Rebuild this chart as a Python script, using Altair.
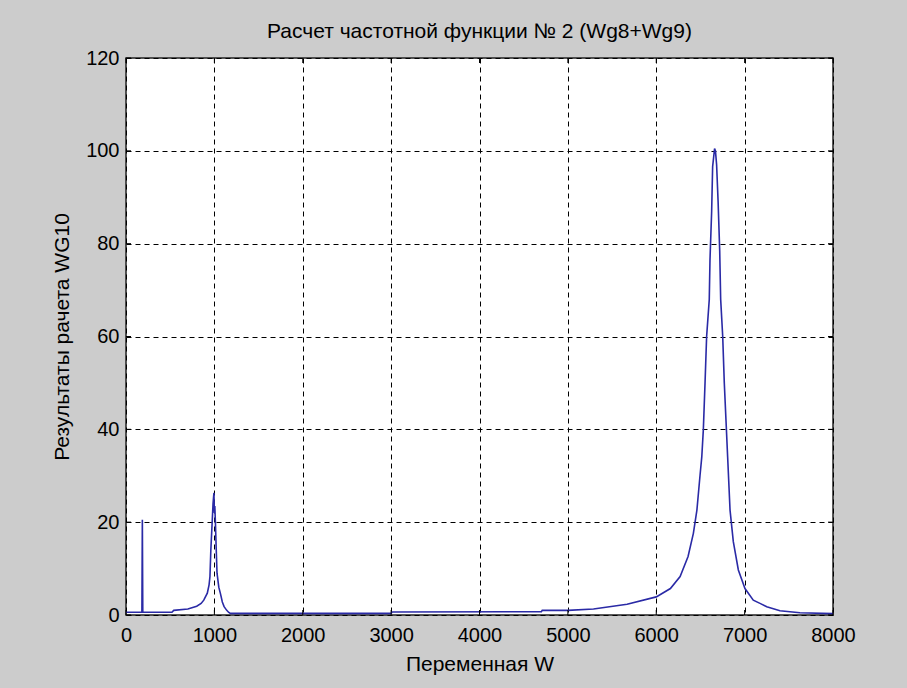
import altair as alt
import pandas as pd

# Frequency response readings (W, WG10)
w_values = [0, 180, 185, 190, 520, 540, 700, 800, 850, 880, 920, 940, 950, 960, 975, 985, 995,
            1000, 1005, 1012, 1020, 1030, 1050, 1070, 1090, 1110, 1140, 1160, 1180,
            3000, 3010, 4700, 4710, 5000, 5290, 5670, 6000, 6160, 6270, 6360, 6420, 6460,
            6495, 6515, 6533, 6552, 6570, 6600, 6608, 6627, 6638, 6660, 6670, 6683, 6700,
            6718, 6729, 6752, 6770, 6789, 6808, 6835, 6872, 6929, 7004, 7098, 7174, 7250,
            7400, 7626, 8000]
g_values = [0.6, 0.6, 20.5, 0.6, 0.6, 1.0, 1.3, 1.9, 2.5, 3.2, 4.7, 6.5, 8.3, 14.0, 20.0, 24.0, 26.3,
            22.0, 23.5, 19.8, 14.7, 9.0, 6.0, 4.5, 2.8, 1.8, 1.0, 0.6, 0.35,
            0.35, 0.65, 0.7, 1.0, 1.0, 1.3, 2.3, 3.9, 5.7, 8.3, 12.6, 17.6, 22.6,
            30.0, 34.0, 40.0, 50.0, 60.0, 68.0, 76.5, 87.0, 96.6, 100.5, 100.0, 97.0, 89.0,
            78.5, 68.0, 60.0, 50.0, 42.0, 34.0, 22.6, 15.8, 9.7, 5.7, 3.2, 2.5, 1.8,
            0.9, 0.5, 0.3]

x_ticks = [0, 1000, 2000, 3000, 4000, 5000, 6000, 7000, 8000]
y_ticks = [0, 20, 40, 60, 80, 100, 120]

title_text = "Расчет частотной функции № 2 (Wg8+Wg9)"
x_title = "Переменная W"
y_title = "Результаты рачета WG10"

W, H = 707, 557
FONT = "Liberation Sans"

df = pd.DataFrame({"w": w_values, "g": g_values})
xt = pd.DataFrame({"t": x_ticks})
yt = pd.DataFrame({"t": y_ticks})

xscale = alt.Scale(domain=[0, 8000], nice=False, zero=False)
yscale = alt.Scale(domain=[0, 120], nice=False, zero=False)

xaxis = alt.Axis(values=x_ticks, format="d", grid=True, gridDash=[5, 4], gridColor="#000000",
                 gridOpacity=1, gridWidth=1, ticks=False, domain=False, labelFont=FONT,
                 labelFontSize=20, labelColor="#000000", labelPadding=10, title=x_title,
                 titleFont=FONT, titleFontSize=21, titleFontWeight="normal", titleColor="#000000",
                 titlePadding=8, labelFlush=False, labelOverlap=False)
yaxis = alt.Axis(values=y_ticks, format="d", grid=True, gridDash=[5, 4], gridColor="#000000",
                 gridOpacity=1, gridWidth=1, ticks=False, domain=False, labelFont=FONT,
                 labelFontSize=20, labelColor="#000000", labelPadding=7, title=y_title,
                 titleFont=FONT, titleFontSize=21, titleFontWeight="normal", titleColor="#000000",
                 titlePadding=13, labelFlush=False, labelOverlap=False)

line = alt.Chart(df).mark_line(color="#2a2aa6", strokeWidth=1.6, clip=True).encode(
    x=alt.X("w:Q", scale=xscale, axis=xaxis),
    y=alt.Y("g:Q", scale=yscale, axis=yaxis),
)

tick_color = "#000000"
bottom_ticks = alt.Chart(xt).mark_rule(color=tick_color, strokeWidth=1).encode(
    x=alt.X("t:Q", scale=xscale), y=alt.value(H), y2=alt.value(H - 5))
top_ticks = alt.Chart(xt).mark_rule(color=tick_color, strokeWidth=1).encode(
    x=alt.X("t:Q", scale=xscale), y=alt.value(0), y2=alt.value(5))
left_ticks = alt.Chart(yt).mark_rule(color=tick_color, strokeWidth=1).encode(
    y=alt.Y("t:Q", scale=yscale), x=alt.value(0), x2=alt.value(5))
right_ticks = alt.Chart(yt).mark_rule(color=tick_color, strokeWidth=1).encode(
    y=alt.Y("t:Q", scale=yscale), x=alt.value(W), x2=alt.value(W - 5))

chart = alt.layer(line, bottom_ticks, top_ticks, left_ticks, right_ticks).properties(
    width=W, height=H,
    title=alt.TitleParams(text=title_text, font=FONT, fontSize=21, fontWeight="normal",
                          color="#000000", anchor="middle", frame="group", offset=6),
    autosize=alt.AutoSizeParams(type="none"),
    padding={"left": 126, "top": 58, "right": 74, "bottom": 73},
    background="#cccccc",
).configure_view(
    fill="#ffffff", stroke="#222222", strokeWidth=1.5
)

chart.save("out.html", embed_options={"renderer": "svg", "actions": False})
